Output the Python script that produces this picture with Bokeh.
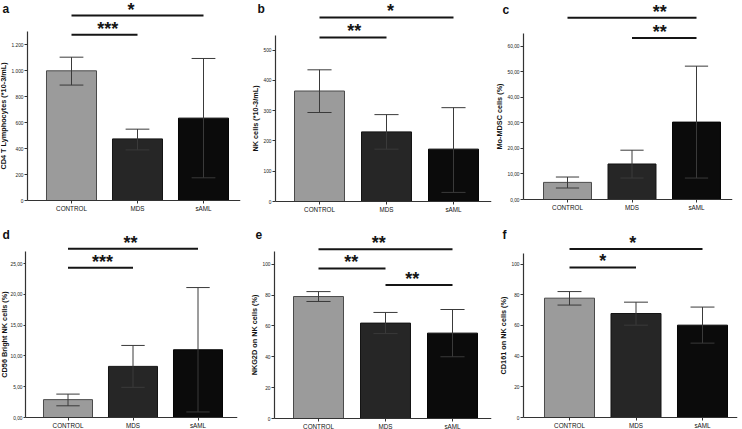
from bokeh.plotting import figure
from bokeh.layouts import column, row
from bokeh.models import Range1d, FixedTicker
from bokeh.core.properties import value
from bokeh.embed import file_html
from bokeh.resources import INLINE

# ---------------- data ----------------
categories = ["CONTROL", "MDS", "sAML"]

cd4_mean = [1000, 475, 635]
cd4_low = [890, 390, 175]
cd4_high = [1105, 550, 1095]
cd4_ticks = [0, 200, 400, 600, 800, 1000, 1200]
cd4_tick_labels = ["0", "200", "400", "600", "800", "1.000", "1.200"]
cd4_sig = [(0, 2, 1426, "*", 0.9), (0, 1, 1278, "***", 0.55)]

nk_mean = [365, 230, 173]
nk_low = [294, 173, 30]
nk_high = [435, 287, 310]
nk_ticks = [0, 100, 200, 300, 400, 500]
nk_tick_labels = ["0", "100", "200", "300", "400", "500"]
nk_sig = [(0, 2, 608, "*", 1.06), (0, 1, 542, "**", 0.52)]

mdsc_mean = [6.7, 13.9, 30.3]
mdsc_low = [4.5, 8.4, 8.4]
mdsc_high = [8.8, 19.3, 52.2]
mdsc_ticks = [0, 10, 20, 30, 40, 50, 60]
mdsc_tick_labels = ["0,00", "10,00", "20,00", "30,00", "40,00", "50,00", "60,00"]
mdsc_sig = [(0, 2, 71.1, "**", 1.43), (1, 2, 63.2, "**", 1.43)]

cd56_mean = [2.9, 8.3, 11.0]
cd56_low = [1.9, 4.9, 0.9]
cd56_high = [3.8, 11.7, 21.1]
cd56_ticks = [0, 5, 10, 15, 20, 25]
cd56_tick_labels = ["0,00", "5,00", "10,00", "15,00", "20,00", "25,00"]
cd56_sig = [(0, 2, 27.4, "**", 0.96), (0, 1, 24.3, "***", 0.53)]

nkg2d_mean = [79.0, 61.8, 55.3]
nkg2d_low = [75.8, 55.0, 40.0]
nkg2d_high = [82.2, 68.7, 70.6]
pct_ticks = [0, 20, 40, 60, 80, 100]
pct_tick_labels = ["0", "20", "40", "60", "80", "100"]
nkg2d_sig = [(0, 2, 109.7, "**", 0.9), (0, 1, 97.2, "**", 0.49), (1, 2, 86.4, "**", 1.40)]

cd161_mean = [77.8, 67.8, 60.2]
cd161_low = [73.3, 60.2, 48.5]
cd161_high = [82.1, 75.2, 72.0]
cd161_sig = [(0, 2, 109.8, "*", 0.95), (0, 1, 97.8, "*", 0.5)]

# ---------------- style ----------------
bar_fill = ["#9b9b9b", "#262626", "#0b0b0b"]
bar_line = ["#4a4a4a", "#141414", "#050505"]
FONT = "Liberation Sans"


def make_panel(letter, ylabel, mean, low, high, ticks, tick_labels, sig, g):
    W, H = g["w"], g["h"]
    ppu = g["spacing"]
    xl = (0 - g["c0"]) / ppu
    xr = (g["axis_end"] - g["c0"]) / ppu
    axis_loc = (g["axis_x"] - g["c0"]) / ppu
    ppu_y = g["xaxis_y"] / g["ytop"]
    ybot = -(H - g["xaxis_y"]) / ppu_y
    p = figure(width=W, height=H, output_backend="svg", toolbar_location=None,
               x_range=Range1d(xl, xr), y_range=Range1d(ybot, g["ytop"]),
               min_border_left=0, min_border_right=W - g["axis_end"],
               min_border_top=0, min_border_bottom=0)
    p.outline_line_color = None
    p.xgrid.visible = False
    p.ygrid.visible = False
    p.background_fill_color = "white"
    p.border_fill_color = "white"

    xs = [0, 1, 2]
    p.vbar(x=xs, top=mean, bottom=0, width=g["bw"], fill_color=bar_fill,
           line_color=bar_line, line_width=1)
    cap = 0.18
    p.segment(x0=xs, y0=low, x1=xs, y1=high, line_color="#3a3a3a", line_width=1)
    p.segment(x0=[x - cap for x in xs], y0=low, x1=[x + cap for x in xs], y1=low,
              line_color="#3a3a3a", line_width=1)
    p.segment(x0=[x - cap for x in xs], y0=high, x1=[x + cap for x in xs], y1=high,
              line_color="#3a3a3a", line_width=1)

    # significance brackets
    p.segment(x0=[s[0] for s in sig], x1=[s[1] for s in sig],
              y0=[s[2] for s in sig], y1=[s[2] for s in sig],
              line_color="#151515", line_width=2)
    p.text(x=[s[4] for s in sig], y=[s[2] for s in sig], text=[s[3] for s in sig],
           text_font=value(FONT), text_font_style="bold",
           text_font_size="18px", text_align="center", text_baseline="alphabetic",
           y_offset=-6, text_color="#151515")

    # panel letter
    p.text(x=[xl], y=[g["ytop"]], text=[letter], text_font=value(FONT),
           text_font_style="bold", text_font_size="12px", text_align="left",
           text_baseline="top", x_offset=g["lx"], y_offset=g["ly"], text_color="#111111")

    # axes
    ax = p.xaxis[0]
    ax.fixed_location = 0
    ax.ticker = FixedTicker(ticks=xs)
    ax.bounds = (axis_loc, xr)
    ax.major_label_overrides = {i: c for i, c in enumerate(categories)}
    ax.major_label_text_font = FONT
    ax.major_label_text_font_size = "6.3px"
    ax.major_label_text_color = "#111111"
    ax.major_label_standoff = 1
    ax.major_tick_out = 3
    ax.major_tick_in = 0
    ax.minor_tick_out = 0
    ax.minor_tick_in = 0
    ax.axis_line_color = "#333333"
    ax.major_tick_line_color = "#333333"

    ay = p.yaxis[0]
    ay.fixed_location = axis_loc
    ay.ticker = FixedTicker(ticks=ticks)
    ay.major_label_overrides = {t: l for t, l in zip(ticks, tick_labels)}
    ay.bounds = (0, g["ybound"])
    ay.major_label_text_font = FONT
    ay.major_label_text_font_size = "4.8px"
    ay.major_label_text_color = "#222222"
    ay.major_label_standoff = 1
    ay.major_tick_out = g["tick"]
    ay.major_tick_in = 0
    ay.minor_tick_out = 0
    ay.minor_tick_in = 0
    ay.axis_line_color = "#333333"
    ay.axis_line_width = 1.2
    ay.major_tick_line_color = "#333333"
    ay.axis_label = ylabel
    ay.axis_label_text_font = FONT
    ay.axis_label_text_font_style = "bold"
    ay.axis_label_text_font_size = "7.3px"
    ay.axis_label_text_color = "#111111"
    ay.axis_label_standoff = g["standoff"]
    return p


def geo(w, h, axis_x, axis_end, xaxis_y, c0, spacing, ytop, ybound, bw, lx, ly,
        standoff=0, tick=3):
    return dict(w=w, h=h, axis_x=axis_x, axis_end=axis_end, xaxis_y=xaxis_y, c0=c0,
                spacing=spacing, ytop=ytop, ybound=ybound, bw=bw, lx=lx, ly=ly,
                standoff=standoff, tick=tick)


pa = make_panel("a", "CD4 T Lymphocytes (*10-3/mL)", cd4_mean, cd4_low, cd4_high,
                cd4_ticks, cd4_tick_labels, cd4_sig,
                geo(245, 215, 27, 240, 200, 71, 66, 1542, 1300, 0.758, 2, 1))
pb = make_panel("b", "NK cells (*10-3/mL)", nk_mean, nk_low, nk_high,
                nk_ticks, nk_tick_labels, nk_sig,
                geo(247, 215, 30, 246, 201, 74, 67, 664, 550, 0.746, 12, 1))
pc = make_panel("c", "Mo-MDSC cells (%)", mdsc_mean, mdsc_low, mdsc_high,
                mdsc_ticks, mdsc_tick_labels, mdsc_sig,
                geo(250, 215, 31, 240, 199, 75, 64.5, 77.9, 65, 0.744, 10, 2))
pd_ = make_panel("d", "CD56 Bright NK cells (%)", cd56_mean, cd56_low, cd56_high,
                 cd56_ticks, cd56_tick_labels, cd56_sig,
                 geo(245, 214, 25, 237, 202, 67.5, 65, 32.8, 27, 0.754, 2, 12,
                     standoff=-2, tick=2))
pe = make_panel("e", "NKG2D on NK cells (%)", nkg2d_mean, nkg2d_low, nkg2d_high,
                pct_ticks, pct_tick_labels, nkg2d_sig,
                geo(247, 214, 29, 246, 203, 73, 67, 131.5, 108, 0.746, 10, 14))
pf = make_panel("f", "CD161 on NK cells (%)", cd161_mean, cd161_low, cd161_high,
                pct_ticks, pct_tick_labels, cd161_sig,
                geo(250, 214, 31, 245, 202, 77, 66.5, 131.7, 107, 0.752, 10, 12))

layout = column(row(pa, pb, pc), row(pd_, pe, pf))

open("out.html", "w").write(file_html(layout, INLINE))
